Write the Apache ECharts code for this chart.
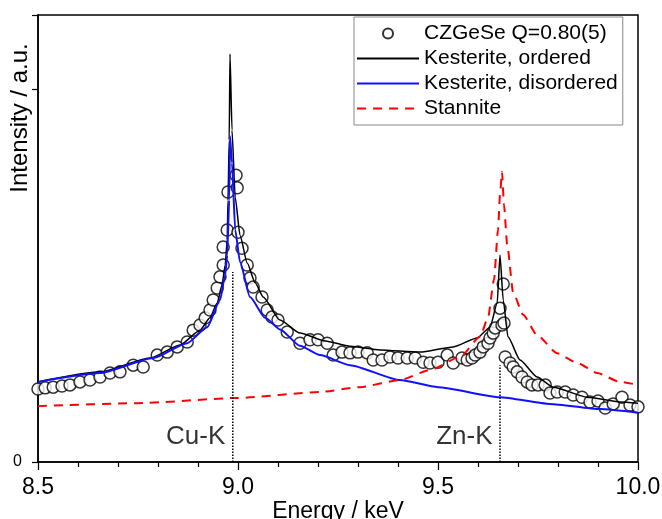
<!DOCTYPE html>
<html>
<head>
<meta charset="utf-8">
<title>CZGeSe resonant diffraction</title>
<script src="https://cdn.jsdelivr.net/npm/echarts@6/dist/echarts.min.js"></script>
<style>
  html, body { margin: 0; padding: 0; background: #fff; }
  #main { width: 662px; height: 519px; }
</style>
</head>
<body>
<div id="main"></div>
<script>
// measured intensities (circles)
const expEnergy = [8.5, 8.518, 8.538, 8.56, 8.58, 8.605, 8.63, 8.655, 8.68, 8.705, 8.738, 8.763, 8.798, 8.823, 8.848, 8.873,
  8.888, 8.905, 8.918, 8.93, 8.938, 8.948, 8.955, 8.963, 8.963, 8.973, 8.975, 8.995, 8.998, 9.0, 9.01, 9.023, 9.03, 9.038,
  9.06, 9.073, 9.085, 9.1, 9.123, 9.155, 9.18, 9.2, 9.223, 9.238, 9.26, 9.28, 9.3, 9.323, 9.338, 9.36, 9.38, 9.4, 9.423,
  9.443, 9.463, 9.48, 9.5, 9.523, 9.538, 9.56, 9.573, 9.585, 9.593, 9.605, 9.613, 9.625, 9.63, 9.638, 9.643, 9.66, 9.665,
  9.655, 9.663, 9.668, 9.68, 9.688, 9.698, 9.71, 9.723, 9.735, 9.75, 9.768, 9.78, 9.798, 9.818, 9.838, 9.86, 9.88, 9.9,
  9.918, 9.938, 9.96, 9.98, 10.0];
const expIntensity = [0.196, 0.199, 0.201, 0.204, 0.207, 0.215, 0.220, 0.228, 0.239, 0.242, 0.260, 0.255, 0.287, 0.295,
  0.309, 0.322, 0.354, 0.368, 0.387, 0.408, 0.435, 0.467, 0.497, 0.529, 0.577, 0.623, 0.725, 0.770, 0.736, 0.617, 0.574,
  0.529, 0.494, 0.470, 0.443, 0.408, 0.389, 0.381, 0.349, 0.319, 0.328, 0.328, 0.319, 0.287, 0.295, 0.293, 0.295, 0.293,
  0.274, 0.274, 0.282, 0.279, 0.279, 0.279, 0.268, 0.266, 0.268, 0.287, 0.266, 0.279, 0.274, 0.279, 0.287, 0.295, 0.309,
  0.319, 0.333, 0.346, 0.360, 0.368, 0.373, 0.413, 0.478, 0.282, 0.266, 0.255, 0.242, 0.228, 0.215, 0.207, 0.207, 0.207,
  0.185, 0.188, 0.188, 0.180, 0.174, 0.161, 0.164, 0.145, 0.156, 0.174, 0.153, 0.148];

// kesterite, ordered
const ordEnergy = [8.5, 8.655, 8.78, 8.855, 8.905, 8.93, 8.948, 8.96, 8.968, 8.973, 8.975, 8.978, 8.98, 8.985, 8.993,
  9.005, 9.023, 9.043, 9.063, 9.105, 9.155, 9.218, 9.28, 9.355, 9.455, 9.538, 9.598, 9.63, 9.648, 9.655, 9.663, 9.675,
  9.705, 9.748, 9.788, 9.873, 9.955, 10.0];
const ordIntensity = [0.215, 0.242, 0.279, 0.314, 0.354, 0.387, 0.427, 0.475, 0.529, 0.596, 0.703, 0.864, 1.095, 0.891,
  0.711, 0.609, 0.534, 0.481, 0.443, 0.381, 0.346, 0.325, 0.311, 0.301, 0.295, 0.309, 0.333, 0.362, 0.427, 0.556, 0.435,
  0.336, 0.274, 0.228, 0.201, 0.174, 0.161, 0.158];

// kesterite, disordered
const disEnergy = [8.5, 8.655, 8.788, 8.873, 8.923, 8.955, 8.968, 8.973, 8.978, 8.98, 8.985, 8.993, 9.005, 9.03, 9.068,
  9.105, 9.155, 9.205, 9.28, 9.405, 9.5, 9.655, 9.78, 9.905, 10.0];
const disIntensity = [0.215, 0.239, 0.279, 0.319, 0.362, 0.435, 0.502, 0.556, 0.703, 0.875, 0.803, 0.623, 0.537, 0.443,
  0.387, 0.356, 0.312, 0.287, 0.260, 0.220, 0.201, 0.174, 0.156, 0.142, 0.132];

// stannite
const stanEnergy = [8.5, 8.75, 9.0, 9.205, 9.305, 9.405, 9.48, 9.555, 9.605, 9.625, 9.64, 9.65, 9.655, 9.66, 9.665,
  9.673, 9.688, 9.713, 9.748, 9.798, 9.848, 9.898, 9.955, 10.0];
const stanIntensity = [0.150, 0.158, 0.172, 0.188, 0.201, 0.220, 0.247, 0.282, 0.336, 0.387, 0.489, 0.623, 0.717, 0.779,
  0.690, 0.583, 0.454, 0.395, 0.340, 0.292, 0.266, 0.239, 0.215, 0.207];

// absorption edges
const edgeNames = ['Cu-K', 'Zn-K'];
const edgeEnergy = [8.987, 9.655];
const edgeTop = [0.51, 0.26];
const edgeLabelY = 0.067;

const xTicks = [8.5, 9.0, 9.5, 10.0];

const font = 'Liberation Sans, Arial, sans-serif';
const pairs = (xs, ys) => xs.map((x, i) => [x, ys[i]]);

const names = ['CZGeSe Q=0.80(5)', 'Kesterite, ordered', 'Kesterite, disordered', 'Stannite'];

let chart = echarts.init(document.getElementById('main'));

let series = [
  {
    name: names[0],
    type: 'scatter',
    data: pairs(expEnergy, expIntensity),
    symbol: 'circle',
    symbolSize: 12,
    itemStyle: { color: '#fff', borderColor: '#000', borderWidth: 1.5 }
  },
  {
    name: names[1],
    type: 'line',
    data: pairs(ordEnergy, ordIntensity),
    symbol: 'none',
    smooth: 0.2,
    smoothMonotone: 'x',
    lineStyle: { color: '#000', width: 1.5 },
    itemStyle: { color: '#000' }
  },
  {
    name: names[2],
    type: 'line',
    data: pairs(disEnergy, disIntensity),
    symbol: 'none',
    smooth: 0.2,
    smoothMonotone: 'x',
    lineStyle: { color: '#1010ff', width: 2 },
    itemStyle: { color: '#1010ff' }
  },
  {
    name: names[3],
    type: 'line',
    data: pairs(stanEnergy, stanIntensity),
    symbol: 'none',
    smooth: 0.2,
    smoothMonotone: 'x',
    lineStyle: { color: '#ff0000', width: 2, type: [9, 7] },
    itemStyle: { color: '#ff0000' }
  }
];

edgeEnergy.forEach((e, i) => {
  series.push({
    type: 'line',
    data: [[e, 0], [e, edgeTop[i]]],
    symbol: 'none',
    silent: true,
    lineStyle: { color: '#000', width: 1.5, type: [1.5, 1.5] }
  });
  series.push({
    type: 'scatter',
    data: [[e, edgeLabelY]],
    symbolSize: 1,
    silent: true,
    itemStyle: { color: 'rgba(0,0,0,0)' },
    label: {
      show: true,
      position: 'left',
      distance: 7,
      formatter: edgeNames[i],
      fontSize: 26,
      color: '#000',
      fontFamily: font
    }
  });
});

// hide the marker dot on the line entries of the legend
const noDot = { opacity: 0 };

let option = {
  animation: false,
  backgroundColor: '#fff',
  grid: {
    left: 38, right: 24, top: 15, bottom: 57,
    outerBoundsMode: 'none',
    show: true, borderColor: '#000', borderWidth: 1.5
  },
  legend: {
    data: [
      { name: names[0] },
      { name: names[1], itemStyle: noDot },
      { name: names[2], itemStyle: noDot },
      { name: names[3], itemStyle: noDot }
    ],
    orient: 'vertical',
    left: 354,
    top: 17,
    itemWidth: 62,
    itemHeight: 10,
    itemGap: 4,
    padding: [6, 5, 6, 2],
    borderColor: '#888',
    borderWidth: 1,
    backgroundColor: '#fff',
    textStyle: { fontSize: 21, color: '#000', fontFamily: font }
  },
  xAxis: {
    type: 'value',
    min: 8.5,
    max: 10.0,
    interval: 0.5,
    name: 'Energy / keV',
    nameLocation: 'middle',
    nameGap: 38,
    nameMoveOverlap: false,
    nameTextStyle: { fontSize: 23, color: '#000', fontFamily: font },
    axisLine: { lineStyle: { color: '#000', width: 1.5 } },
    axisTick: { length: 8, lineStyle: { color: '#000', width: 1.2 } },
    minorTick: { show: true, splitNumber: 5, length: 5, lineStyle: { color: '#000', width: 1.2 } },
    axisLabel: {
      fontSize: 23, color: '#000', fontFamily: font, margin: 14,
      formatter: v => xTicks.includes(v) ? v.toFixed(1) : ''
    },
    splitLine: { show: false }
  },
  yAxis: {
    type: 'value',
    min: 0,
    max: 1.2,
    interval: 1,
    axisLine: { show: true, lineStyle: { color: '#000', width: 1.5 } },
    axisTick: { show: true, length: 6, lineStyle: { color: '#000', width: 1.2 } },
    axisLabel: {
      fontSize: 16, color: '#000', fontFamily: font, margin: 16,
      formatter: v => v === 0 ? '0' : ''
    },
    splitLine: { show: false }
  },
  graphic: [{
    type: 'text',
    x: 20,
    y: 118,
    rotation: Math.PI / 2,
    style: {
      text: 'Intensity / a.u.',
      fontSize: 24,
      fontFamily: font,
      fill: '#000',
      align: 'center',
      verticalAlign: 'middle'
    }
  }],
  series: series
};

chart.setOption(option);
</script>
</body>
</html>
